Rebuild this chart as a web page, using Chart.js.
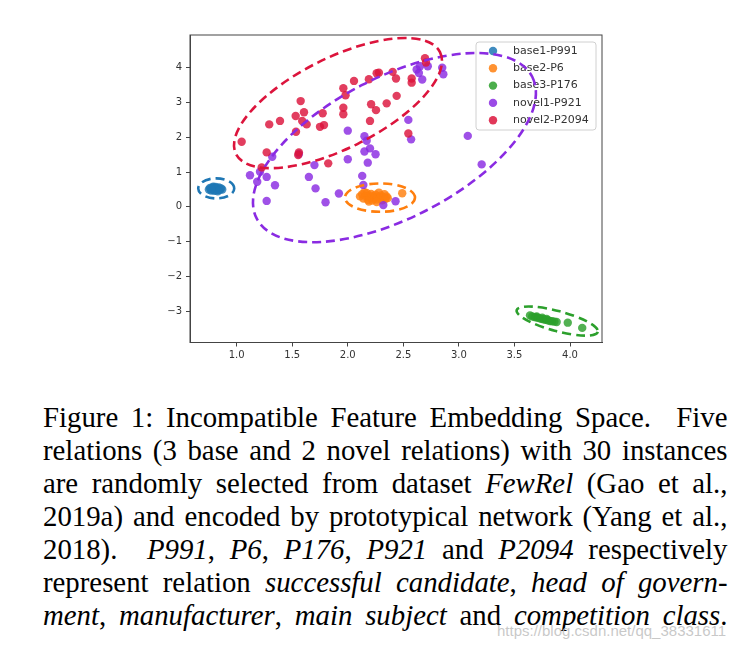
<!DOCTYPE html>
<html>
<head>
<meta charset="utf-8">
<script src="https://cdn.jsdelivr.net/npm/chart.js@4.4.0/dist/chart.umd.min.js"></script>
<style>
    html, body { margin: 0; padding: 0; background: #fff; }
    body { width: 745px; height: 649px; position: relative; overflow: hidden; }
    #wrap { position: absolute; left: 0; top: 0; width: 745px; height: 380px; }
    #caption {
        position: absolute; left: 43px; top: 400px;
        font-family: "Liberation Serif", "Times New Roman", serif;
        font-size: 30px; line-height: 33px; color: #000;
    }
    #caption .ln {
        width: 713px; text-align: justify; text-align-last: justify;
        transform: scaleX(0.96); transform-origin: left top;
    }
    #mark {
        position: absolute; left: 497px; top: 622px;
        font-family: "Liberation Sans", Arial, sans-serif; font-size: 15px;
        color: rgba(190, 190, 190, 0.85);
    }
</style>
</head>
<body>
<div id="wrap"><canvas id="chart" width="745" height="380"></canvas></div>

<div id="caption">
    <div class="ln">Figure 1: Incompatible Feature Embedding Space.&nbsp; Five</div>
    <div class="ln">relations (3 base and 2 novel relations) with 30 instances</div>
    <div class="ln">are randomly selected from dataset <i>FewRel</i> (Gao et al.,</div>
    <div class="ln">2019a) and encoded by prototypical network (Yang et al.,</div>
    <div class="ln">2018).&nbsp; <i>P991</i>, <i>P6</i>, <i>P176</i>, <i>P921</i> and <i>P2094</i> respectively</div>
    <div class="ln">represent relation <i>successful candidate</i>, <i>head of govern-</i></div>
    <div class="ln"><i>ment</i>, <i>manufacturer</i>, <i>main subject</i> and <i>competition class</i>.</div>
</div>
<div id="mark">https://blog.csdn.net/qq_38331611</div>

<script>
// --- axes ---
const xTicks = [1.0, 1.5, 2.0, 2.5, 3.0, 3.5, 4.0];
const yTicks = [-3, -2, -1, 0, 1, 2, 3, 4];

// --- series ---
const seriesNames = ['base1-P991', 'base2-P6', 'base3-P176', 'novel1-P921', 'novel2-P2094'];
const seriesColors = ['#1f77b4', '#ff7f0e', '#2ca02c', '#8a2be2', '#dc143c'];

const base1Points = [
    [0.75, 0.50], [0.76, 0.54], [0.77, 0.47], [0.78, 0.52], [0.78, 0.56],
    [0.79, 0.49], [0.80, 0.53], [0.80, 0.46], [0.81, 0.57], [0.82, 0.50],
    [0.82, 0.54], [0.83, 0.48], [0.84, 0.52], [0.84, 0.56], [0.85, 0.49],
    [0.86, 0.53], [0.87, 0.50], [0.79, 0.58], [0.83, 0.45], [0.77, 0.51]
];
const base2Points = [
    [2.11, 0.30], [2.13, 0.36], [2.14, 0.24], [2.16, 0.31], [2.17, 0.40],
    [2.18, 0.20], [2.19, 0.33], [2.20, 0.27], [2.21, 0.37], [2.22, 0.18],
    [2.23, 0.30], [2.24, 0.24], [2.25, 0.35], [2.26, 0.21], [2.27, 0.29],
    [2.28, 0.41], [2.29, 0.26], [2.30, 0.33], [2.31, 0.19], [2.32, 0.28],
    [2.33, 0.36], [2.34, 0.23], [2.35, 0.30], [2.36, 0.25], [2.19, 0.15],
    [2.26, 0.14], [2.49, 0.39], [2.15, 0.42]
];
const base3Points = [
    [3.64, -3.12], [3.66, -3.15], [3.68, -3.17], [3.70, -3.15], [3.70, -3.18],
    [3.72, -3.20], [3.74, -3.22], [3.75, -3.19], [3.76, -3.23], [3.78, -3.25],
    [3.79, -3.22], [3.80, -3.26], [3.82, -3.28], [3.84, -3.29], [3.86, -3.30],
    [3.88, -3.31], [3.98, -3.33], [4.11, -3.48]
];
const novel1Points = [
    [1.12, 0.91], [1.21, 1.01], [1.185, 0.72], [1.27, 0.86], [1.345, 0.62],
    [1.27, 0.17], [1.32, 1.44], [1.56, 1.52], [1.65, 0.86], [1.70, 1.20],
    [1.71, 0.53], [1.80, 0.13], [1.92, 0.385], [2.00, 1.37], [2.00, 2.19],
    [2.15, 2.03], [2.17, 1.90], [2.20, 1.68], [2.15, 1.59], [2.25, 1.51],
    [2.18, 1.27], [2.13, 0.89], [2.14, 0.63], [2.32, 0.05], [2.43, 0.16],
    [2.545, 2.50], [2.57, 1.94], [2.62, 3.95], [2.65, 4.04], [2.67, 3.66],
    [2.64, 3.85], [2.72, 4.04], [2.85, 4.00], [2.86, 3.81], [3.08, 2.04],
    [3.205, 1.22]
];
const novel2Points = [
    [1.045, 1.87], [1.293, 2.37], [1.39, 2.47], [1.576, 3.04], [1.606, 2.72],
    [1.531, 2.61], [1.59, 2.47], [1.63, 2.37], [1.534, 2.16], [1.27, 1.565],
    [1.225, 1.13], [1.56, 1.565], [1.554, 1.49], [1.824, 1.25], [1.774, 2.69],
    [1.786, 2.35], [1.75, 2.30], [1.96, 3.41], [1.98, 3.21], [1.96, 2.85],
    [1.96, 2.66], [2.056, 3.62], [2.19, 3.67], [2.26, 3.84], [2.28, 3.855],
    [2.21, 2.95], [2.254, 2.78], [2.20, 2.47], [2.35, 2.975], [2.404, 3.88],
    [2.434, 3.69], [2.44, 3.19], [2.545, 2.11], [2.575, 3.69], [2.575, 3.57],
    [2.695, 4.27], [2.704, 4.15]
];
const allPoints = [base1Points, base2Points, base3Points, novel1Points, novel2Points];

// --- dashed ellipses: centre and two semi-diameters, in data units ---
const ellipseCenters = [[0.816, 0.53], [2.29, 0.265], [3.885, -3.283], [2.420, 1.703], [1.912, 2.983]];
const ellipseAxisA = [[0.162, 0], [0.315, 0], [0.365, -0.313], [1.240, 2.037], [0.918, 1.464]];
const ellipseAxisB = [[0, 0.288], [0, 0.408], [-0.0233, -0.278], [0.290, -1.801], [0.182, -1.165]];

function withAlpha(hex, a) {
    const n = parseInt(hex.slice(1), 16);
    return 'rgba(' + (n >> 16) + ',' + ((n >> 8) & 255) + ',' + (n & 255) + ',' + a + ')';
}

// legend drawn inside the plot, top right
function drawLegend(chart) {
    const ctx = chart.ctx;
    const area = chart.chartArea;
    const boxW = 120, boxH = 88;
    const left = area.right - 6 - boxW, top = area.top + 7;
    ctx.save();
    ctx.beginPath();
    ctx.roundRect(left, top, boxW, boxH, 3);
    ctx.fillStyle = 'rgba(255,255,255,0.8)';
    ctx.fill();
    ctx.strokeStyle = '#d0d0d0';
    ctx.lineWidth = 1;
    ctx.stroke();
    ctx.font = '11px "DejaVu Sans"';
    ctx.textBaseline = 'middle';
    seriesNames.forEach((name, i) => {
        const yy = top + 9 + i * 17.3;
        ctx.beginPath();
        ctx.arc(left + 17, yy, 4.2, 0, Math.PI * 2);
        ctx.fillStyle = withAlpha(seriesColors[i], 0.85);
        ctx.fill();
        ctx.fillStyle = '#333';
        ctx.fillText(name, left + 37, yy);
    });
    ctx.restore();
}

const overlayPlugin = {
    id: 'overlay',
    afterDraw(chart) {
        const { ctx, chartArea: area, scales: { x, y } } = chart;
        // frame (top and right spines)
        ctx.save();
        ctx.strokeStyle = '#444';
        ctx.lineWidth = 1;
        ctx.strokeRect(area.left, area.top, area.right - area.left, area.bottom - area.top);
        ctx.restore();

        drawLegend(chart);

        ellipseCenters.forEach((c, i) => {
            const cx = x.getPixelForValue(c[0]);
            const cy = y.getPixelForValue(c[1]);
            const ax = x.getPixelForValue(c[0] + ellipseAxisA[i][0]) - cx;
            const ay = y.getPixelForValue(c[1] + ellipseAxisA[i][1]) - cy;
            const bx = x.getPixelForValue(c[0] + ellipseAxisB[i][0]) - cx;
            const by = y.getPixelForValue(c[1] + ellipseAxisB[i][1]) - cy;
            ctx.save();
            ctx.beginPath();
            ctx.transform(ax, ay, bx, by, cx, cy);
            ctx.arc(0, 0, 1, 0, Math.PI * 2);
            ctx.restore();
            ctx.save();
            ctx.strokeStyle = seriesColors[i];
            ctx.lineWidth = 2.6;
            ctx.setLineDash([9, 5]);
            ctx.stroke();
            ctx.restore();
        });
    }
};

const tickFont = { family: '"DejaVu Sans"', size: 10 };

new Chart(document.getElementById('chart'), {
    type: 'scatter',
    data: {
        datasets: allPoints.map((pts, i) => ({
            label: seriesNames[i],
            data: pts.map(p => ({ x: p[0], y: p[1] })),
            backgroundColor: withAlpha(seriesColors[i], 0.82),
            borderWidth: 0,
            pointRadius: 4.2,
            pointHoverRadius: 4.2,
            order: seriesNames.length - 1 - i
        }))
    },
    options: {
        responsive: false,
        animation: false,
        devicePixelRatio: 1,
        layout: { padding: { left: 0, right: 143, top: 35, bottom: 0 } },
        plugins: { legend: { display: false }, tooltip: { enabled: false } },
        scales: {
            x: {
                type: 'linear', min: 0.58, max: 4.288,
                afterBuildTicks: s => { s.ticks = xTicks.map(v => ({ value: v })); },
                afterFit: s => { s.height = 37.5; },
                grid: { drawOnChartArea: false, drawTicks: true, tickLength: 4, color: '#444' },
                border: { display: true, color: '#444', width: 1 },
                ticks: { font: tickFont, color: '#333', padding: 3, maxRotation: 0,
                         callback: v => v.toFixed(1) }
            },
            y: {
                type: 'linear', min: -3.90, max: 4.94,
                afterBuildTicks: s => { s.ticks = yTicks.map(v => ({ value: v })); },
                afterFit: s => { s.width = 190; },
                grid: { drawOnChartArea: false, drawTicks: true, tickLength: 4, color: '#444' },
                border: { display: true, color: '#444', width: 1 },
                ticks: { font: tickFont, color: '#333', padding: 4,
                         callback: v => (v < 0 ? '\u2212' + Math.abs(v) : String(v)) }
            }
        }
    },
    plugins: [overlayPlugin]
});
</script>
</body>
</html>
